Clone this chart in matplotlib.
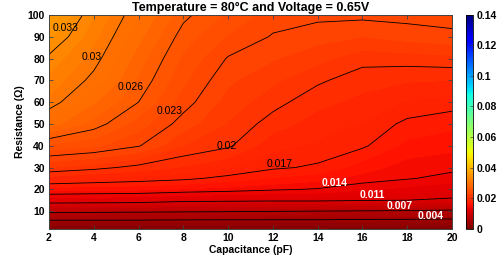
import matplotlib
matplotlib.use("Agg")
import matplotlib.pyplot as plt
import numpy as np
from matplotlib.colors import Normalize
from matplotlib.cm import ScalarMappable

plt.rcParams["font.family"] = ["Liberation Sans", "DejaVu Sans"]
plt.rcParams["font.weight"] = "bold"
plt.rcParams["axes.titleweight"] = "bold"
plt.rcParams["axes.labelweight"] = "bold"
plt.rcParams["font.size"] = 7.5

# Capacitance (pF) columns and resistance (ohm) rows of the sampled grid
capacitance = [2, 4, 6, 8, 10, 12, 14, 16, 18, 20]
resistance = [2, 5, 10, 15, 20, 25, 30, 40, 50, 60, 70, 80, 90, 100]

# values (rows = resistance, cols = capacitance)
z_r2 = [0.0008, 0.0008, 0.0008, 0.0008, 0.0008, 0.0008, 0.0008, 0.0008, 0.0008, 0.0008]
z_r5 = [0.0033, 0.0033, 0.0033, 0.0032, 0.0032, 0.0032, 0.0032, 0.0031, 0.0031, 0.0030]
z_r10 = [0.0076, 0.0075, 0.0074, 0.0073, 0.0072, 0.0071, 0.0070, 0.0069, 0.0068, 0.0066]
z_r15 = [0.0122, 0.0121, 0.0120, 0.0115, 0.0114, 0.0113, 0.0113, 0.0111, 0.0110, 0.0107]
z_r20 = [0.0155, 0.0153, 0.0152, 0.0149, 0.0146, 0.0142, 0.0139, 0.0132, 0.0127, 0.0122]
z_r25 = [0.0185, 0.0181, 0.0177, 0.0173, 0.0166, 0.0159, 0.0154, 0.0146, 0.0141, 0.0136]
z_r30 = [0.0210, 0.0204, 0.0196, 0.0189, 0.0181, 0.0172, 0.0168, 0.0155, 0.0145, 0.0143]
z_r40 = [0.0248, 0.0242, 0.0231, 0.0210, 0.0202, 0.0183, 0.0178, 0.0172, 0.0157, 0.0153]
z_r50 = [0.0285, 0.0266, 0.0245, 0.0225, 0.0209, 0.0195, 0.0185, 0.0179, 0.0167, 0.0163]
z_r60 = [0.0307, 0.0281, 0.0260, 0.0235, 0.0216, 0.0204, 0.0193, 0.0187, 0.0179, 0.0175]
z_r70 = [0.0317, 0.0296, 0.0268, 0.0242, 0.0222, 0.0212, 0.0202, 0.0194, 0.0191, 0.0190]
z_r80 = [0.0327, 0.0305, 0.0275, 0.0248, 0.0229, 0.0221, 0.0213, 0.0204, 0.0205, 0.0207]
z_r90 = [0.0343, 0.0313, 0.0283, 0.0255, 0.0239, 0.0229, 0.0224, 0.0220, 0.0224, 0.0227]
z_r100 = [0.0360, 0.0320, 0.0291, 0.0263, 0.0248, 0.0235, 0.0233, 0.0233, 0.0234, 0.0235]

line_levels = [0.004, 0.007, 0.011, 0.014, 0.017, 0.02, 0.023, 0.026, 0.03, 0.033]
label_text = ["0.004", "0.007", "0.011", "0.014", "0.017", "0.02", "0.023", "0.026", "0.03", "0.033"]

Z = np.array([z_r2, z_r5, z_r10, z_r15, z_r20, z_r25, z_r30, z_r40,
              z_r50, z_r60, z_r70, z_r80, z_r90, z_r100])
X, Y = np.meshgrid(capacitance, resistance)

fig = plt.figure(figsize=(5.03, 2.67), dpi=100)
ax = fig.add_axes([0.0974, 0.144, 0.8012, 0.8])
cax = fig.add_axes([0.926, 0.144, 0.0139, 0.8])

cmap = plt.get_cmap("jet_r")
norm = Normalize(0, 0.14)
ax.contourf(X, Y, Z, levels=np.arange(0, 0.0401, 0.001), cmap=cmap, norm=norm)
ax.contour(X, Y, Z, levels=line_levels, colors="black", linewidths=0.6)

# label placement beside each contour line
label_pos = [(19.05, 7.9), (17.65, 12.5), (16.44, 17.6), (14.75, 23.1), (12.29, 31.6),
             (9.92, 39.9), (7.38, 55.9), (5.64, 66.9), (3.92, 80.5), (2.76, 94.0)]
for lvl, txt, (lx, ly) in zip(line_levels, label_text, label_pos):
    white = lvl <= 0.014
    ax.text(lx, ly, txt, ha="center", va="center", fontsize=7.5,
            color="white" if white else "black",
            fontweight="bold" if white else "normal")

ax.set_xlim(2, 20)
ax.set_ylim(2, 100)
ax.set_xticks(capacitance)
ax.set_yticks([10, 20, 30, 40, 50, 60, 70, 80, 90, 100])
ax.tick_params(direction="in", top=True, right=True, length=3, width=0.6,
               color="#444444", pad=3)
for s in ax.spines.values():
    s.set_linewidth(0.7)
    s.set_color("#444444")
ax.set_xlabel("Capacitance (pF)", labelpad=2)
ax.set_ylabel("Resistance (\u03a9)", labelpad=2)
ax.set_title("Temperature = 80\u00b0C and Voltage = 0.65V", pad=3)

cb = fig.colorbar(ScalarMappable(norm=norm, cmap=cmap), cax=cax)
cb.set_ticks([0, 0.02, 0.04, 0.06, 0.08, 0.1, 0.12, 0.14])
cb.set_ticklabels(["0", "0.02", "0.04", "0.06", "0.08", "0.1", "0.12", "0.14"])
cb.ax.tick_params(direction="in", length=2, width=0.5, color="#444444", pad=3)
cb.outline.set_linewidth(0.6)

for lbl in ax.get_xticklabels() + ax.get_yticklabels() + cb.ax.get_yticklabels():
    lbl.set_fontweight("bold")

fig.savefig("out.png", dpi=100)
